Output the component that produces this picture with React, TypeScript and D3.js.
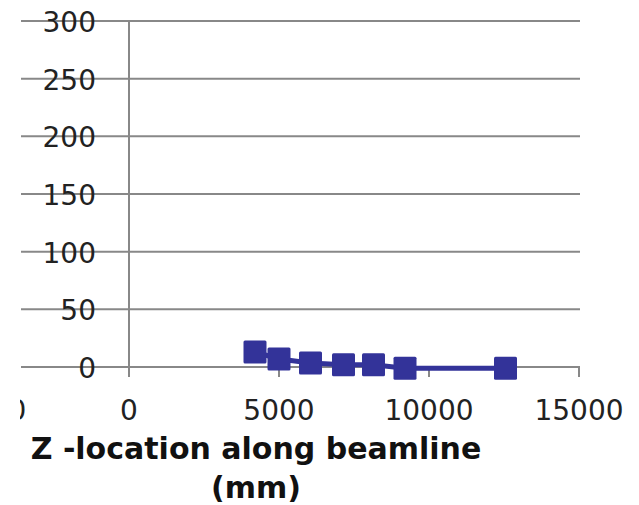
import React from "react";
import * as d3 from "d3";

const zLocation = [4200, 5000, 6050, 7150, 8150, 9200, 12550];
const values = [13, 7, 3.5, 2, 2, -1, -1];
const yTicks = [0, 50, 100, 150, 200, 250, 300];
const xTicks = [-5000, 0, 5000, 10000, 15000];
const titleLines = ["Z -location along beamline", "(mm)"];

const W = 639;
const H = 505;

export default function App() {
  const x = d3.scaleLinear().domain([-5000, 15000]).range([-21, 579]);
  const y = d3.scaleLinear().domain([0, 300]).range([367, 21]);
  const pts = zLocation.map((z, i) => [x(z), y(values[i])] as [number, number]);
  const line = d3.line()(pts) || "";
  const font = "DejaVu Sans, Verdana, sans-serif";
  const ms = 23;
  return (
    <svg width={W} height={H} style={{ position: "absolute", left: 0, top: 0, background: "#fff" }}>
      <defs>
        <clipPath id="leftclip">
          <rect x={20} y={0} width={W - 20} height={H} />
        </clipPath>
      </defs>
      {yTicks.map((t) => (
        <line key={"g" + t} x1={21} x2={580} y1={y(t)} y2={y(t)} stroke="#888" strokeWidth={2} />
      ))}
      <line x1={x(0)} x2={x(0)} y1={y(300)} y2={y(0) + 10} stroke="#888" strokeWidth={2} />
      {xTicks.filter((t) => t > 0).map((t) => (
        <line key={"xt" + t} x1={x(t)} x2={x(t)} y1={y(0)} y2={y(0) + 10} stroke="#888" strokeWidth={2} />
      ))}
      {yTicks.map((t) => (
        <text key={"yl" + t} x={96} y={y(t) + 1} dy="0.36em" textAnchor="end" fontFamily={font} fontSize={28} fill="#222">
          {t}
        </text>
      ))}
      <g clipPath="url(#leftclip)">
        {xTicks.map((t) => (
          <text key={"xl" + t} x={x(t)} y={420} textAnchor="middle" fontFamily={font} fontSize={28} fill="#222">
            {t < 0 ? "\u2212" + Math.abs(t) : t}
          </text>
        ))}
      </g>
      <path d={line} fill="none" stroke="#333399" strokeWidth={5} />
      {pts.map(([px, py], i) => (
        <rect key={"m" + i} x={px - ms / 2} y={py - ms / 2} width={ms} height={ms} rx={1.5} fill="#333399" />
      ))}
      {titleLines.map((s, i) => (
        <text key={"t" + i} x={256} y={459 + i * 39} textAnchor="middle" fontFamily={font} fontWeight="bold" fontSize={30} fill="#111">
          {s}
        </text>
      ))}
    </svg>
  );
}
